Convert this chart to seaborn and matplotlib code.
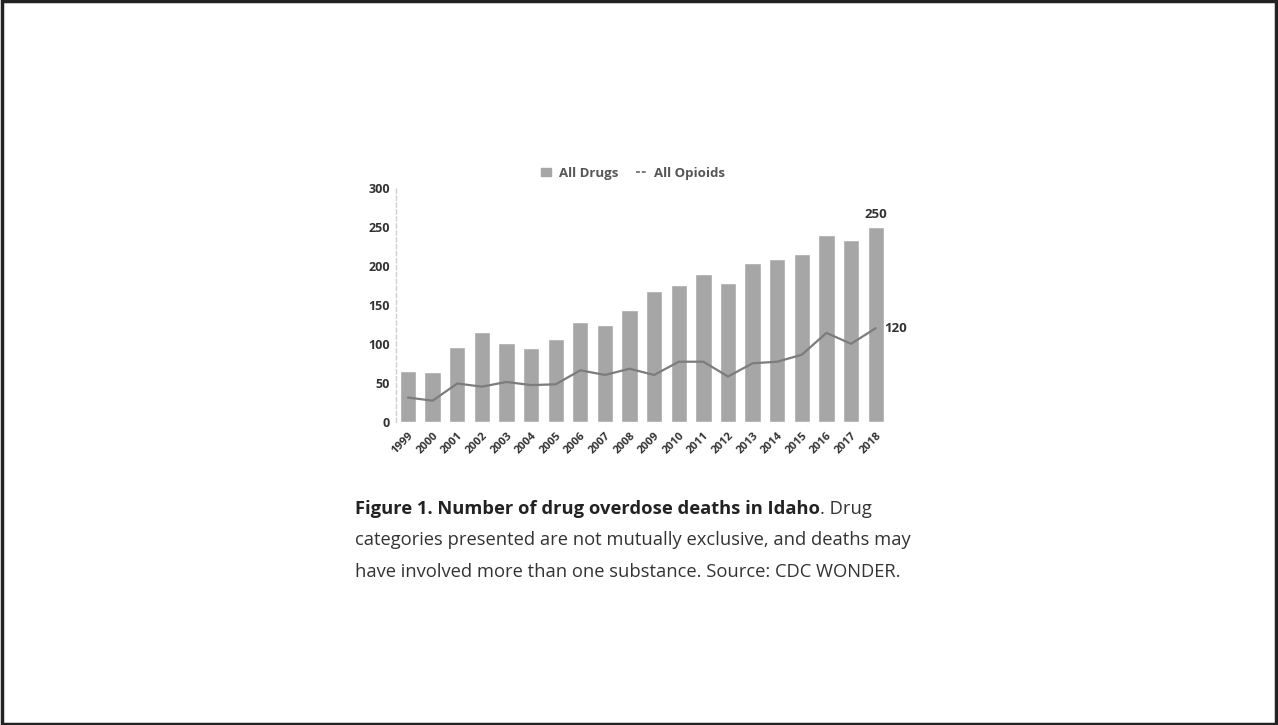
import matplotlib
matplotlib.use("Agg")
import matplotlib.pyplot as plt
import seaborn as sns
import pandas as pd
from matplotlib.patches import Rectangle
from matplotlib.lines import Line2D

years = [str(y) for y in range(1999, 2019)]
all_drugs = [65, 64, 96, 115, 101, 95, 106, 128, 124, 143,
             168, 175, 190, 178, 204, 209, 215, 240, 233, 250]
all_opioids = [31, 27, 49, 45, 51, 47, 48, 66, 60, 68,
               60, 77, 77, 58, 75, 77, 86, 114, 100, 120]
y_ticks = [0, 50, 100, 150, 200, 250, 300]
caption_bold = "Figure 1. Number of drug overdose deaths in Idaho"
caption_rest = ". Drug"
caption_line2 = "categories presented are not mutually exclusive, and deaths may"
caption_line3 = "have involved more than one substance. Source: CDC WONDER."

df = pd.DataFrame({"Year": years, "All Drugs": all_drugs, "All Opioids": all_opioids})

sns.set_theme(style="white")
plt.rcParams['font.family'] = ['Open Sans', 'DejaVu Sans']

W, H = 1278, 725
fig = plt.figure(figsize=(W / 100, H / 100), dpi=100)
fig.patch.set_facecolor("white")

ax = fig.add_axes([395.7 / W, 1 - 421.7 / H, (888 - 395.7) / W, (421.7 - 188) / H])
bar_color = "#a6a6a6"
line_color = "#7c7c7c"
sns.barplot(data=df, x="Year", y="All Drugs", color=bar_color, width=0.66,
            saturation=1, ax=ax)
sns.pointplot(data=df, x="Year", y="All Opioids", color=line_color, markers="",
              linewidth=1.6, ax=ax)

ax.set_ylim(0, 300)
ax.set_xlim(-0.5, len(years) - 0.5)
ax.set_yticks(y_ticks)
ax.set_yticklabels([str(t) for t in y_ticks], fontsize=9, fontweight="bold", color="#333333")
ax.set_xticks(range(len(years)))
ax.set_xticklabels(years, rotation=45, ha="right", rotation_mode="anchor",
                   fontsize=8, fontweight="bold", color="#333333")
ax.tick_params(axis="both", length=0, pad=4)
ax.tick_params(axis="x", pad=6)
ax.set_xlabel("")
ax.set_ylabel("")
for s in ["top", "right", "bottom"]:
    ax.spines[s].set_visible(False)
ax.spines["left"].set_color("#d0d0d0")
ax.spines["left"].set_linestyle((0, (3, 2)))
ax.spines["left"].set_linewidth(1)
ax.patch.set_alpha(0)

# value annotations
n = len(years) - 1
ax.annotate(f"{all_drugs[-1]}", (n, all_drugs[-1]), xytext=(0, 4), textcoords="offset points",
            ha="center", va="bottom", fontsize=9.5, fontweight="bold", color="#333333")
ax.annotate(f"{all_opioids[-1]}", (n, all_opioids[-1]), xytext=(6, 0), textcoords="offset points",
            ha="left", va="center", fontsize=9.5, fontweight="bold", color="#333333")

# legend (custom layout above plot)
handles = [Rectangle((0, 0), 1, 1, color=bar_color),
           Line2D([0], [0], color=line_color, lw=1.4, linestyle=(0, (2, 1)))]
leg = fig.legend(handles, ["All Drugs", "All Opioids"], loc="center",
                 bbox_to_anchor=(633 / W, 1 - 173 / H), ncol=2, frameon=False,
                 prop={"size": 9.5, "weight": "bold"}, handlelength=0.8, handleheight=0.6,
                 columnspacing=1.3, handletextpad=0.6)
for t in leg.get_texts():
    t.set_color("#555555")

# caption
fs = 13.2
x0 = 355 / W
t1 = fig.text(x0, 1 - 509 / H, caption_bold, fontsize=fs, fontweight="bold",
              color="#222222", va="center", ha="left")
fig.canvas.draw()
bb = t1.get_window_extent()
fig.text(bb.x1 / W, 1 - 509 / H, caption_rest, fontsize=fs, color="#333333",
         va="center", ha="left")
fig.text(x0, 1 - 540 / H, caption_line2, fontsize=fs, color="#333333", va="center", ha="left")
fig.text(x0, 1 - 572 / H, caption_line3, fontsize=fs, color="#333333", va="center", ha="left")

# outer frame
fig.patches.append(Rectangle((0.0015, 0.002), 0.997, 0.996, transform=fig.transFigure,
                             fill=False, edgecolor="#222222", linewidth=2.5))

fig.savefig("out.png", dpi=100)
